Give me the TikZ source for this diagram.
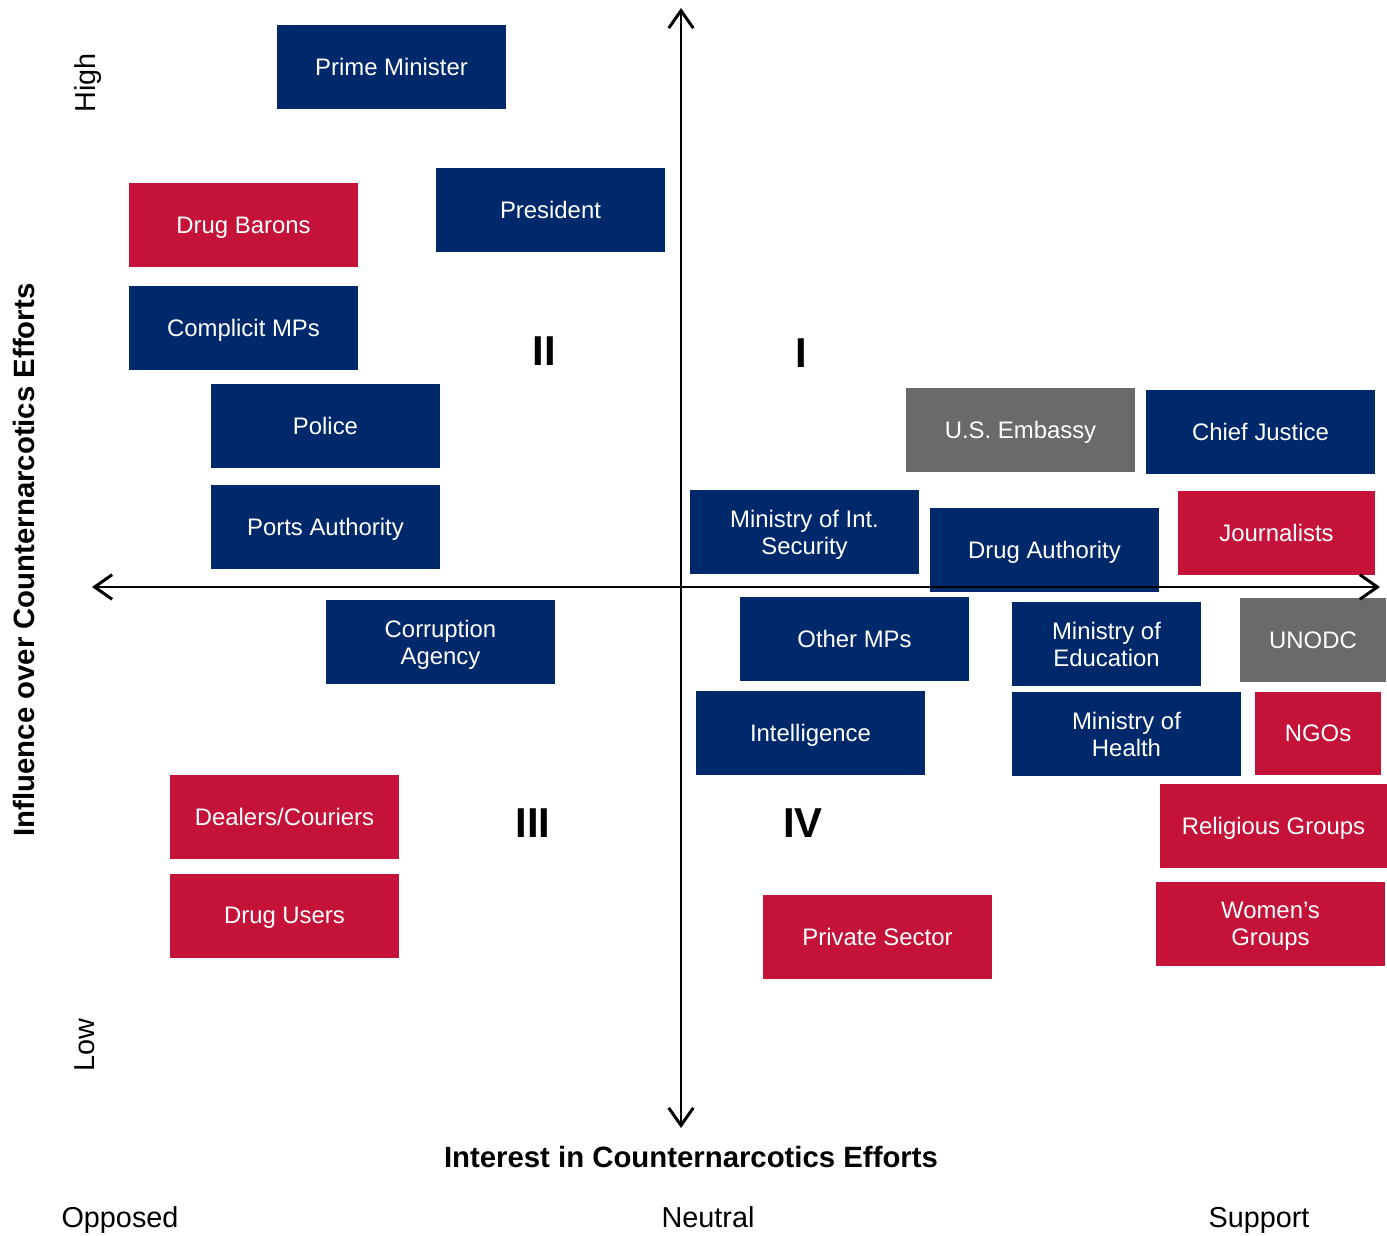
\documentclass[tikz,border=0pt]{standalone}
\usepackage{fontspec}
\setmainfont{Liberation Sans}
\usetikzlibrary{arrows.meta,positioning}
\definecolor{navy}{RGB}{0,41,107}
\definecolor{crimson}{RGB}{196,18,56}
\definecolor{slate}{RGB}{106,106,106}
\tikzstyle{actor} = [rectangle, minimum width=4.58cm, minimum height=1.68cm, inner sep=0pt, text centered, align=center, text=white, text depth=0pt, font=\fontsize{13.6}{15.3}\selectfont]
\tikzstyle{navyactor} = [actor, fill=navy]
\tikzstyle{redactor} = [actor, fill=crimson]
\tikzstyle{grayactor} = [actor, fill=slate]
\tikzstyle{quadrant} = [font=\fontsize{23.8}{28}\selectfont\bfseries]
\tikzstyle{axislabel} = [font=\fontsize{16.7}{19}\selectfont\bfseries]
\tikzstyle{scalelabel} = [font=\fontsize{16.4}{19}\selectfont, text depth=0pt]
\tikzstyle{axis} = [line width=1.7pt, <->, >={Straight Barb[length=10pt,width=14pt]}]

\begin{document}
\begin{tikzpicture}[x=0.02cm, y=-0.02cm]
\useasboundingbox (0,0) rectangle (1387,1236);

% quadrant II
\node (pm) [navyactor] at (391.5,67) {Prime Minister};
\node (president) [navyactor] at (550.5,210) {President};
\node (barons) [redactor] at (243.5,225) {Drug Barons};
\node (complicit) [navyactor, below=0.36cm of barons] {Complicit MPs};
\node (police) [navyactor] at (325.5,426) {Police};
\node (ports) [navyactor, below=0.32cm of police] {Ports Authority};

% quadrant III
\node (corruption) [navyactor] at (440.5,642) {Corruption\\Agency};
\node (dealers) [redactor] at (284.5,817) {Dealers/Couriers};
\node (users) [redactor, below=0.28cm of dealers] {Drug Users};

% quadrant I
\node (embassy) [grayactor] at (1020.5,430) {U.S. Embassy};
\node (justice) [navyactor] at (1260.5,432) {Chief Justice};
\node (security) [navyactor] at (804.5,532) {Ministry of Int.\\Security};
\node (drugauth) [navyactor] at (1044.5,550) {Drug Authority};
\node (journalists) [redactor, minimum width=3.94cm] at (1276.5,533) {Journalists};

% quadrant IV
\node (othermps) [navyactor] at (854.5,639) {Other MPs};
\node (education) [navyactor, minimum width=3.78cm] at (1106.5,644) {Ministry of\\Education};
\node (unodc) [grayactor, minimum width=2.92cm] at (1313,640) {UNODC};
\node (intel) [navyactor] at (810.5,733) {Intelligence};
\node (health) [navyactor] at (1126.5,734) {Ministry of\\Health};
\node (ngos) [redactor, minimum width=2.52cm] at (1318,733.5) {NGOs};
\node (religious) [redactor, minimum width=4.54cm] at (1273.5,826) {Religious Groups};
\node (women) [redactor] at (1270.5,924) {Women’s\\Groups};
\node (private) [redactor] at (877.5,937) {Private Sector};

\node (q1) [quadrant] at (801,353) {I};
\node (q2) [quadrant] at (544,351) {II};
\node (q3) [quadrant] at (533,823) {III};
\node (q4) [quadrant] at (803,823) {IV};

% axes
\coordinate (west) at (92,587);
\coordinate (east) at (1380,587);
\coordinate (north) at (681,8);
\coordinate (south) at (681,1128);
\draw [axis] (west) -- (east);
\draw [axis] (north) -- (south);

\node (influence) [axislabel, rotate=90] at (24,560) {Influence over Counternarcotics Efforts};
\node (high) [scalelabel, rotate=90] at (85,83) {High};
\node (low) [scalelabel, rotate=90] at (85,1045) {Low};
\node (interest) [axislabel] at (691,1157) {Interest in Counternarcotics Efforts};
\node (opposed) [scalelabel] at (120,1217) {Opposed};
\node (neutral) [scalelabel] at (708,1217) {Neutral};
\node (support) [scalelabel] at (1259,1217) {Support};

\end{tikzpicture}
\end{document}
